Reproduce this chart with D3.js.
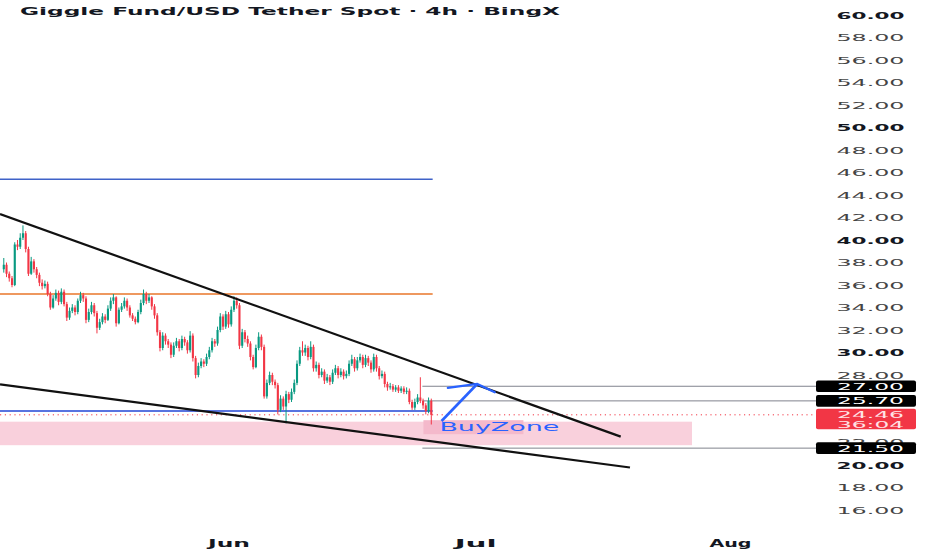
<!DOCTYPE html>
<html>
<head>
<meta charset="utf-8">
<script src="https://cdn.jsdelivr.net/npm/d3@7"></script>
<style>
  html, body { margin: 0; padding: 0; background: #fff; }
  svg { display: block; }
</style>
</head>
<body>
<svg id="chart" width="932" height="550"></svg>
<script>
// ---- data ----
const title = 'Giggle Fund/USD Tether Spot · 4h · BingX';
const firstCandle = '2025-05-04T16:00';
const candleHours = 8;
const firstOpen = 37.4;

const closes = [
  37.8, 37.0, 36.6, 36.0, 39.6, 39.4, 40.2, 40.6, 39.2, 37.0,
  38.1, 37.4, 36.9, 36.2, 35.9, 36.1, 35.2, 34.0, 34.8, 35.3,
  34.5, 35.4, 34.3, 33.1, 33.7, 34.0, 33.6, 34.6, 35.1, 34.8,
  32.9, 33.6, 34.2, 33.5, 32.2, 32.7, 33.2, 32.9, 33.9, 34.6,
  34.9, 32.6, 33.8, 34.1, 34.6, 34.0, 33.3, 33.0, 32.7, 33.6,
  34.4, 35.2, 34.6, 34.9, 34.1, 33.3, 31.8, 30.4, 31.5, 31.0,
  30.7, 29.8, 30.6, 31.0, 30.4, 31.2, 30.9, 30.2, 31.5, 29.5,
  28.0, 28.8, 29.2, 29.0, 29.6, 30.2, 31.0, 30.8, 32.0, 33.2,
  32.3, 33.4, 32.5, 33.8, 34.6, 34.2, 30.6, 31.8, 31.2, 30.8,
  29.6, 28.7, 30.4, 31.4, 30.5, 26.1, 27.3, 28.0, 27.4, 27.1,
  24.9, 25.9, 25.2, 26.3, 25.8, 26.5, 27.3, 29.0, 30.2, 30.0,
  30.4, 29.6, 30.5, 28.6, 28.9, 28.0, 28.3, 27.5, 27.8, 27.4,
  28.2, 28.6, 28.0, 28.3, 27.9, 28.1, 29.0, 29.4, 28.6, 29.3,
  29.6, 28.9, 29.5, 29.1, 28.5, 29.6, 28.6, 27.9, 28.1, 27.2,
  26.9, 27.0, 26.7, 26.9, 26.6, 26.8, 26.5, 26.6, 25.6, 25.1,
  25.6, 26.0, 25.7, 25.3, 24.8, 25.7, 24.46
];
const highs = [
  38.4, 38.0, 37.2, 36.8, 39.8, 40.0, 40.6, 41.3, 40.8, 39.4,
  38.5, 38.3, 37.6, 37.1, 36.5, 36.4, 36.3, 35.4, 35.1, 35.6,
  35.5, 35.7, 35.6, 34.5, 34.0, 34.3, 34.2, 34.8, 35.4, 35.3,
  35.0, 33.9, 34.5, 34.4, 33.7, 33.0, 33.5, 33.4, 34.2, 34.9,
  35.2, 35.0, 34.0, 34.4, 34.9, 34.8, 34.2, 33.5, 33.2, 33.8,
  34.7, 35.6, 35.4, 35.2, 35.0, 34.3, 33.5, 32.0, 31.8, 31.7,
  31.2, 30.9, 30.9, 31.3, 31.2, 31.5, 31.4, 31.1, 31.9, 31.7,
  29.7, 29.1, 29.5, 29.4, 29.9, 30.5, 31.3, 31.2, 32.3, 33.5,
  33.4, 33.7, 33.6, 34.1, 35.0, 34.9, 34.4, 32.1, 32.0, 31.5,
  31.0, 29.8, 30.7, 31.8, 31.6, 30.7, 27.6, 28.3, 28.2, 27.6,
  27.3, 26.2, 26.1, 26.6, 26.5, 26.8, 27.6, 29.3, 30.5, 31.0,
  30.7, 30.6, 31.0, 30.7, 29.2, 29.1, 28.6, 28.5, 28.1, 28.0,
  28.5, 28.9, 28.8, 28.6, 28.5, 28.4, 29.3, 29.8, 29.6, 29.6,
  29.9, 29.8, 29.8, 29.7, 29.3, 29.9, 29.8, 28.8, 28.4, 28.3,
  27.4, 27.3, 27.2, 27.1, 27.1, 27.0, 27.0, 26.9, 26.8, 25.8,
  25.9, 26.3, 27.8, 25.9, 25.5, 26.0, 25.9
];
const lows = [
  37.1, 36.7, 36.3, 35.8, 35.9, 39.1, 39.2, 40.0, 38.9, 36.8,
  36.9, 37.1, 36.6, 35.9, 35.6, 35.7, 35.0, 33.8, 33.9, 34.6,
  34.2, 34.3, 34.1, 32.8, 32.9, 33.5, 33.3, 33.4, 34.4, 34.5,
  32.6, 32.7, 33.4, 33.2, 31.7, 32.0, 32.5, 32.6, 32.8, 33.7,
  34.3, 32.3, 32.5, 33.6, 33.9, 33.7, 33.1, 32.8, 32.5, 32.6,
  33.4, 34.2, 34.3, 34.4, 33.8, 33.0, 31.5, 30.1, 30.2, 30.7,
  30.4, 29.5, 29.6, 30.4, 30.1, 30.2, 30.6, 29.9, 30.0, 29.2,
  27.7, 27.8, 28.6, 28.7, 28.8, 29.4, 30.0, 30.5, 30.6, 31.8,
  32.0, 32.1, 32.2, 32.3, 33.6, 33.9, 30.3, 30.4, 30.9, 30.5,
  29.3, 28.5, 28.6, 30.2, 30.2, 25.9, 25.9, 27.1, 27.1, 26.8,
  24.5, 24.7, 24.9, 23.7, 25.5, 25.6, 26.3, 27.1, 28.8, 29.7,
  29.7, 29.3, 29.4, 28.3, 28.3, 27.7, 27.8, 27.2, 27.3, 27.1,
  27.2, 28.0, 27.7, 27.8, 27.6, 27.7, 27.9, 28.8, 28.3, 28.4,
  29.1, 28.6, 28.7, 28.8, 28.2, 28.3, 28.3, 27.6, 27.7, 26.9,
  26.6, 26.7, 26.5, 26.5, 26.4, 26.4, 26.3, 26.3, 25.4, 24.9,
  24.9, 25.4, 25.5, 25.0, 24.5, 24.6, 23.6
];

const yTicks = [16, 18, 20, 22, 28, 30, 32, 34, 36, 38, 40, 42, 44, 46, 48, 50, 52, 54, 56, 58, 60];
const majorTicks = [20, 30, 40, 50, 60];
const monthTicks = ['2025-06-01T00:00', '2025-07-01T00:00', '2025-08-01T00:00'];

// horizontal levels drawn up to the last candle
const levelStart = '2025-04-20T00:00';
const levelEnd = '2025-06-25T20:00';
const hLevels = [45.4, 35.2, 24.8];

// target lines (grey) with their price tags
const targetStart = '2025-06-24T14:00';
const targetPrices = [27.0, 25.7, 21.5];
const lastPrice = 24.46;
const countdown = '36:04';

// wedge trend lines: [date, price]
const upperTrend = [['2025-05-04T05:00', 42.3], ['2025-07-18T17:00', 22.52]];
const lowerTrend = [['2025-05-04T05:00', 27.16], ['2025-07-19T20:00', 19.78]];

// buy zone
const zoneDates = ['2025-04-20T00:00', '2025-07-27T09:00'];
const zonePrices = [21.76, 23.85];
const zoneLabel = 'BuyZone';
const zoneLabelDate = '2025-06-24T17:00';

// projected move arrow
const arrowPts = [['2025-06-26T22:00', 23.91], ['2025-07-01T06:00', 27.2]];

// ---- drawing ----
const parse = d3.utcParse('%Y-%m-%dT%H:%M');
const paneRight = 816;
const font = 'DejaVu Sans, Noto Sans, sans-serif';
const upColor = '#089981';
const downColor = '#f23645';
const fmt = d3.format('.2f');

const svg = d3.select('#chart');

const x = d3.scaleUtc()
  .domain([parse(monthTicks[0]), parse(monthTicks[2])])
  .range([228.5, 730]);
const y = d3.scaleLinear()
  .domain([20, 60])
  .range([465, 15]);

// chart pane clip
svg.append('defs').append('clipPath')
  .attr('id', 'pane')
  .append('rect')
  .attr('x', 0).attr('y', 0)
  .attr('width', paneRight).attr('height', 530);

const pane = svg.append('g').attr('clip-path', 'url(#pane)');

// buy zone box + label background
pane.append('rect')
  .attr('x', x(parse(zoneDates[0])))
  .attr('y', y(zonePrices[1]))
  .attr('width', x(parse(zoneDates[1])) - x(parse(zoneDates[0])))
  .attr('height', y(zonePrices[0]) - y(zonePrices[1]))
  .attr('fill', '#f9d0dc');

const lblX = x(parse(zoneLabelDate));
pane.append('rect')
  .attr('x', lblX)
  .attr('y', y(zonePrices[1]) - 1.5)
  .attr('width', 100)
  .attr('height', 14)
  .attr('fill', '#f4b9cb');

// horizontal levels
const levelColors = ['#3f62c8', '#e8762a', '#2246d6'];
pane.selectAll('line.level')
  .data(hLevels)
  .join('line')
  .attr('class', 'level')
  .attr('x1', x(parse(levelStart)))
  .attr('x2', x(parse(levelEnd)))
  .attr('y1', d => y(d))
  .attr('y2', d => y(d))
  .attr('stroke', (d, i) => levelColors[i])
  .attr('stroke-width', 1.6);

// grey target lines
pane.selectAll('line.target')
  .data(targetPrices)
  .join('line')
  .attr('class', 'target')
  .attr('x1', x(parse(targetStart)))
  .attr('x2', paneRight)
  .attr('y1', d => y(d))
  .attr('y2', d => y(d))
  .attr('stroke', '#80838d')
  .attr('stroke-width', 1);

// last price dotted line
pane.append('line')
  .attr('x1', 0).attr('x2', paneRight)
  .attr('y1', y(lastPrice)).attr('y2', y(lastPrice))
  .attr('stroke', downColor)
  .attr('stroke-width', 1)
  .attr('stroke-dasharray', '1.2,3.6');

// candles (open = previous close)
const candles = closes.map((c, i) => ({
  date: d3.utcHour.offset(parse(firstCandle), i * candleHours),
  open: i === 0 ? firstOpen : closes[i - 1],
  close: c,
  high: highs[i],
  low: lows[i],
}));

const cg = pane.append('g');
cg.selectAll('line.wick')
  .data(candles)
  .join('line')
  .attr('class', 'wick')
  .attr('x1', d => x(d.date)).attr('x2', d => x(d.date))
  .attr('y1', d => y(d.high)).attr('y2', d => y(d.low))
  .attr('stroke', d => (d.close >= d.open ? upColor : downColor))
  .attr('stroke-width', 1);
cg.selectAll('rect.body')
  .data(candles)
  .join('rect')
  .attr('class', 'body')
  .attr('x', d => x(d.date) - 1.05)
  .attr('width', 2.1)
  .attr('y', d => y(Math.max(d.open, d.close)))
  .attr('height', d => Math.max(0.8, Math.abs(y(d.open) - y(d.close))))
  .attr('fill', d => (d.close >= d.open ? upColor : downColor));

// wedge lines
const trendLine = d3.line()
  .x(d => x(parse(d[0])))
  .y(d => y(d[1]));
pane.selectAll('path.trend')
  .data([upperTrend, lowerTrend])
  .join('path')
  .attr('class', 'trend')
  .attr('d', trendLine)
  .attr('fill', 'none')
  .attr('stroke', '#111')
  .attr('stroke-width', 2.2);

// zone label text
pane.append('text')
  .attr('x', lblX + 16)
  .attr('y', y(zonePrices[1]) + 9)
  .attr('font-family', font)
  .attr('font-size', 11.5)
  .attr('fill', '#2962ff')
  .attr('textLength', 120)
  .attr('lengthAdjust', 'spacingAndGlyphs')
  .text(zoneLabel);

// arrow (head built in the un-squeezed space of the screenshot)
const a0 = [x(parse(arrowPts[0][0])), y(arrowPts[0][1])];
const a1 = [x(parse(arrowPts[1][0])), y(arrowPts[1][1])];
const stretch = 3.2;
const headLen = 10;
const headAngle = 50 * Math.PI / 180;
const back = Math.atan2(a0[1] - a1[1], (a0[0] - a1[0]) / stretch);
const wing = ang => [a1[0] + Math.cos(ang) * headLen * stretch, a1[1] + Math.sin(ang) * headLen];
pane.append('path')
  .attr('d', d3.line()([a0, a1]))
  .attr('stroke', '#2962ff').attr('stroke-width', 2.6)
  .attr('fill', 'none');
pane.append('path')
  .attr('d', d3.line()([wing(back + headAngle), a1, wing(back - headAngle)]))
  .attr('stroke', '#2962ff').attr('stroke-width', 2.2)
  .attr('stroke-linecap', 'round')
  .attr('fill', 'none');

// title
svg.append('text')
  .attr('x', 20).attr('y', 14.5)
  .attr('font-family', font)
  .attr('font-size', 10.5)
  .attr('font-weight', 'bold')
  .attr('fill', '#131722')
  .attr('textLength', 540)
  .attr('lengthAdjust', 'spacingAndGlyphs')
  .text(title);

// price scale
const yAxis = d3.axisRight(y)
  .tickValues(yTicks)
  .tickSize(0)
  .tickFormat(fmt);
const yg = svg.append('g')
  .attr('transform', 'translate(870.5,0)')
  .call(yAxis);
yg.select('.domain').remove();
yg.selectAll('text')
  .attr('x', 0)
  .attr('text-anchor', 'middle')
  .attr('font-family', font)
  .attr('font-size', 9.5)
  .attr('font-weight', d => (majorTicks.includes(d) ? 'bold' : 'normal'))
  .attr('fill', d => (majorTicks.includes(d) ? '#131722' : '#444'))
  .attr('textLength', 68)
  .attr('lengthAdjust', 'spacingAndGlyphs');

// price tags
const tags = svg.append('g');
targetPrices.forEach(p => {
  tags.append('rect')
    .attr('x', paneRight).attr('y', y(p) - 5.8)
    .attr('width', 100).attr('height', 11.6)
    .attr('rx', 2)
    .attr('fill', '#000');
  tags.append('text')
    .attr('x', 870.5).attr('y', y(p))
    .attr('dy', '0.36em')
    .attr('text-anchor', 'middle')
    .attr('font-family', font)
    .attr('font-size', 9.5)
    .attr('fill', '#fff')
    .attr('textLength', 67)
    .attr('lengthAdjust', 'spacingAndGlyphs')
    .text(fmt(p));
});
tags.append('rect')
  .attr('x', paneRight).attr('y', y(lastPrice) - 6)
  .attr('width', 100).attr('height', 20.5)
  .attr('rx', 2)
  .attr('fill', downColor);
[[fmt(lastPrice), 0], [countdown, 9.8]].forEach(([t, off]) => {
  tags.append('text')
    .attr('x', 870.5).attr('y', y(lastPrice) + off)
    .attr('dy', '0.36em')
    .attr('text-anchor', 'middle')
    .attr('font-family', font)
    .attr('font-size', 9.5)
    .attr('fill', '#ffe3e6')
    .attr('textLength', 67)
    .attr('lengthAdjust', 'spacingAndGlyphs')
    .text(t);
});

// time scale
const xAxis = d3.axisBottom(x)
  .tickValues(monthTicks.map(parse))
  .tickSize(0)
  .tickFormat(d3.utcFormat('%b'));
const xg = svg.append('g')
  .attr('transform', 'translate(0,536.5)')
  .call(xAxis);
xg.select('.domain').remove();
xg.selectAll('text')
  .attr('font-family', font)
  .attr('font-size', 10)
  .attr('font-weight', 'bold')
  .attr('fill', '#131722')
  .attr('textLength', 42)
  .attr('lengthAdjust', 'spacingAndGlyphs');
</script>
</body>
</html>
